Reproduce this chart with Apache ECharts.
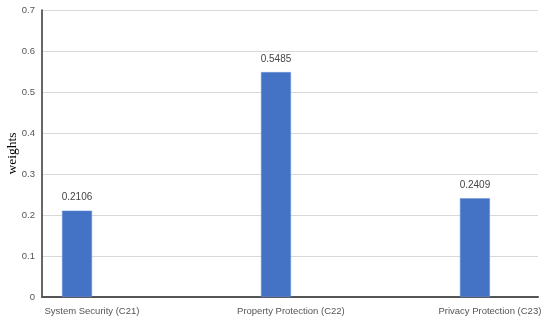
<!DOCTYPE html>
<html><head><meta charset="utf-8">
<script src="https://cdn.jsdelivr.net/npm/echarts@6/dist/echarts.min.js"></script>
<style>html,body{margin:0;padding:0;background:#fff}#c{width:550px;height:323px}</style>
</head><body><div id="c"></div>
<script>
const categories = ['System Security (C21)', 'Property Protection (C22)', 'Privacy Protection (C23)'];
const weights = [0.2106, 0.5485, 0.2409];
const yTicks = [0, 0.1, 0.2, 0.3, 0.4, 0.5, 0.6, 0.7];

const chart = echarts.init(document.getElementById('c'), null, {renderer: 'canvas'});
chart.setOption({
  animation: false,
  grid: {left: 42, right: 12, top: 10, bottom: 26, containLabel: false, outerBoundsMode: 'none'},
  xAxis: {
    type: 'value', min: -0.176, max: 2.317,
    axisLine: {show: true, onZero: false, lineStyle: {color: '#555', width: 2}},
    axisTick: {show: false},
    splitLine: {show: false},
    axisLabel: {
      customValues: categories.map((c, i) => i + 0.075),
      formatter: v => categories[Math.round(v)] || '',
      color: '#555', fontSize: 9.5, fontFamily: 'Liberation Sans, Arial', margin: 9
    }
  },
  yAxis: {
    type: 'value', min: 0, max: 0.7, interval: 0.1,
    name: 'weights', nameLocation: 'middle', nameGap: 23, nameMoveOverlap: false,
    nameTextStyle: {fontFamily: 'Liberation Serif, Times New Roman, serif', fontSize: 13.5, color: '#000'},
    axisLine: {show: true, onZero: false, lineStyle: {color: '#333', width: 1.5}},
    axisTick: {show: false},
    splitLine: {show: true, lineStyle: {color: '#d9d9d9', width: 1}},
    axisLabel: {
      customValues: yTicks,
      formatter: v => String(+v.toFixed(1)),
      color: '#555', fontSize: 9.5, fontFamily: 'Liberation Sans, Arial', margin: 7
    }
  },
  series: [{
    type: 'bar',
    data: weights.map((w, i) => [i, w]),
    barWidth: 30,
    itemStyle: {color: '#4472C4', borderColor: '#6f93da', borderWidth: 0.5},
    label: {
      show: true, position: 'top', distance: 8,
      formatter: p => weights[p.dataIndex].toFixed(4),
      color: '#444', fontSize: 10, fontFamily: 'Liberation Sans, Arial'
    }
  }]
});
</script></body></html>
